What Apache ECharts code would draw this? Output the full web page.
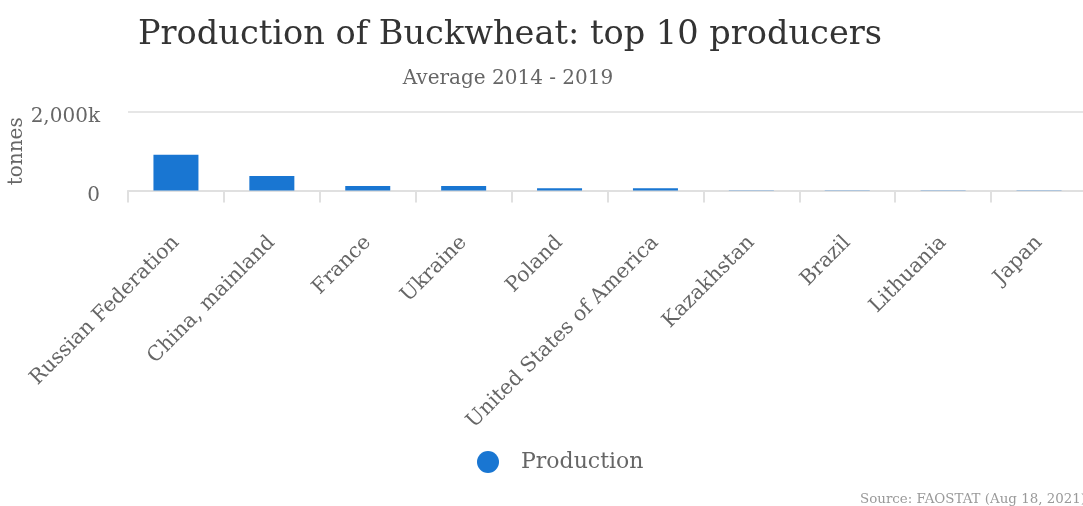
<!DOCTYPE html>
<html><head><meta charset="utf-8">
<script src="https://cdn.jsdelivr.net/npm/echarts@6/dist/echarts.min.js"></script>
<style>html,body{margin:0;padding:0;background:#fff}#c{width:1083px;height:506px}</style>
</head><body><div id="c"></div>
<script>
const categories = ["Russian Federation","China, mainland","France","Ukraine","Poland","United States of America","Kazakhstan","Brazil","Lithuania","Japan"];
const production = [908000, 372000, 115000, 112000, 60000, 58000, 7000, 6000, 5500, 5000];
const yTicks = [0, 2000000];
const F = "DejaVu Serif";
const chart = echarts.init(document.getElementById('c'));
chart.setOption({
  animation: false,
  textStyle: {fontFamily: F},
  title: [{
    text: 'Production of Buckwheat: top 10 producers',
    left: 505, top: 13, textAlign: 'center',
    textStyle: {fontFamily: F, fontSize: 33.6, fontWeight: 'normal', color: '#333'}
  },{
    text: 'Average 2014 - 2019',
    left: 503, top: 64, textAlign: 'center',
    textStyle: {fontFamily: F, fontSize: 20, fontWeight: 'normal', color: '#666'}
  }],
  legend: {
    data: ['Production'], left: 472, top: 446, icon: 'circle',
    itemWidth: 22, itemHeight: 22, itemGap: 10,
    textStyle: {fontFamily: F, fontSize: 22, color: '#666', padding: [0, 0, 0, 17]}
  },
  grid: {left: 128, right: -4, top: 112, height: 78.5, containLabel: false, outerBoundsMode: 'none'},
  xAxis: {
    type: 'category', data: categories,
    axisLine: {lineStyle: {color: '#e0e0e0', width: 2}},
    axisTick: {show: true, length: 12, lineStyle: {color: '#e0e0e0', width: 2}},
    axisLabel: {rotate: 45, interval: 0, fontFamily: F, fontSize: 20.5, color: '#666', margin: 49}
  },
  yAxis: {
    type: 'value', min: yTicks[0], max: yTicks[1], interval: 2000000,
    name: 'tonnes', nameLocation: 'middle', nameGap: 101, nameRotate: 90, nameMoveOverlap: false,
    nameTextStyle: {fontFamily: F, fontSize: 20, color: '#666'},
    axisLine: {show: false}, axisTick: {show: false},
    splitLine: {lineStyle: {color: '#e6e6e6', width: 2}},
    axisLabel: {margin: 28,
      formatter: v => '{a|' + (v === 0 ? '0' : (v/1000).toLocaleString('en-US') + 'k') + '}',
      rich: {a: {fontFamily: F, fontSize: 20, color: '#666', padding: [10, 0, 0, 0]}}}
  },
  series: [{
    name: 'Production', type: 'bar', data: production, barWidth: 45,
    itemStyle: {color: '#1976d2'}
  }],
  graphic: [{
    type: 'text', right: -3, top: 493,
    style: {text: 'Source: FAOSTAT (Aug 18, 2021)', fill: '#999', font: '13.4px "DejaVu Serif"'}
  }]
});
</script></body></html>
